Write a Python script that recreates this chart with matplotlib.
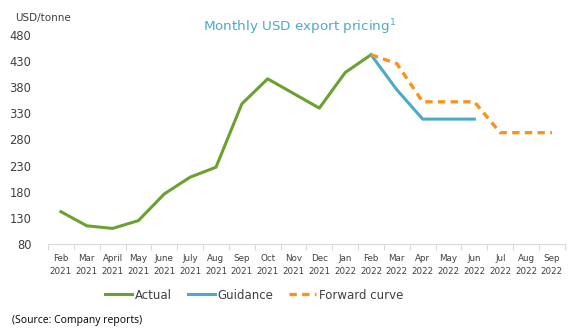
import matplotlib
matplotlib.use("Agg")
import matplotlib.pyplot as plt
from matplotlib.ticker import FixedLocator

months = ["Feb\n2021", "Mar\n2021", "April\n2021", "May\n2021", "June\n2021", "July\n2021",
          "Aug\n2021", "Sep\n2021", "Oct\n2021", "Nov\n2021", "Dec\n2021", "Jan\n2022",
          "Feb\n2022", "Mar\n2022", "Apr\n2022", "May\n2022", "Jun\n2022", "Jul\n2022",
          "Aug\n2022", "Sep\n2022"]

actual = [142, 115, 110, 125, 176, 208, 227, 348, 396, 368, 340, 408, 442]
guidance = [442, 375, 319, 319, 319]          # Feb 2022 .. Jun 2022
forward = [442, 425, 352, 352, 352, 293, 293, 293]  # Feb 2022 .. Sep 2022

y_ticks = [80, 130, 180, 230, 280, 330, 380, 430, 480]

GREEN = "#6AA12F"
BLUE = "#4BAAC8"
ORANGE = "#F7941D"
GREY_TXT = "#404040"

plt.rcParams["font.family"] = ["DejaVu Sans"]

fig = plt.figure(figsize=(5.82, 3.29), dpi=100)
ax = fig.add_axes([0.0825, 0.258, 0.888, 0.636])

x_act = list(range(len(actual)))
x_gui = list(range(12, 12 + len(guidance)))
x_fwd = list(range(12, 12 + len(forward)))

ax.plot(x_act, actual, color=GREEN, lw=2.2, solid_joinstyle="round", label="Actual")
ax.plot(x_gui, guidance, color=BLUE, lw=2.2, solid_joinstyle="round", label="Guidance")
ax.plot(x_fwd, forward, color=ORANGE, lw=2.4, ls=(0, (2.2, 1.6)), label="Forward curve")

ax.set_xlim(-0.5, len(months) - 0.5)
ax.set_ylim(80, 480)
ax.set_yticks(y_ticks)
ax.set_yticklabels([str(v) for v in y_ticks], fontsize=8.3, color=GREY_TXT)
ax.tick_params(axis="y", length=0, pad=12)

ax.set_xticks(range(len(months)))
ax.set_xticklabels(months, fontsize=6.3, color=GREY_TXT, linespacing=1.6)
ax.tick_params(axis="x", which="major", length=0, pad=7)
ax.xaxis.set_minor_locator(FixedLocator([i - 0.5 for i in range(len(months) + 1)]))
ax.tick_params(axis="x", which="minor", length=4, color="#D9D9D9", width=0.8)

for s in ["top", "right", "left"]:
    ax.spines[s].set_visible(False)
ax.spines["bottom"].set_color("#D9D9D9")
ax.spines["bottom"].set_linewidth(0.8)

fig.text(0.026, 0.945, "USD/tonne", fontsize=7.5, color=GREY_TXT, ha="left", va="center")
fig.text(0.515, 0.918, "Monthly USD export pricing$^1$", fontsize=9.7, color=BLUE,
         ha="center", va="center")

leg = fig.legend(loc="center", bbox_to_anchor=(0.437, 0.103), ncol=3, frameon=False,
                 fontsize=8.5, handlelength=2.3, handletextpad=0.25, columnspacing=1.3,
                 labelcolor=GREY_TXT)

fig.text(0.02, 0.027, "(Source: Company reports)", fontsize=7.5, color="black",
         ha="left", va="center", family=["Open Sans", "DejaVu Sans"])

fig.savefig("out.png", dpi=100)
